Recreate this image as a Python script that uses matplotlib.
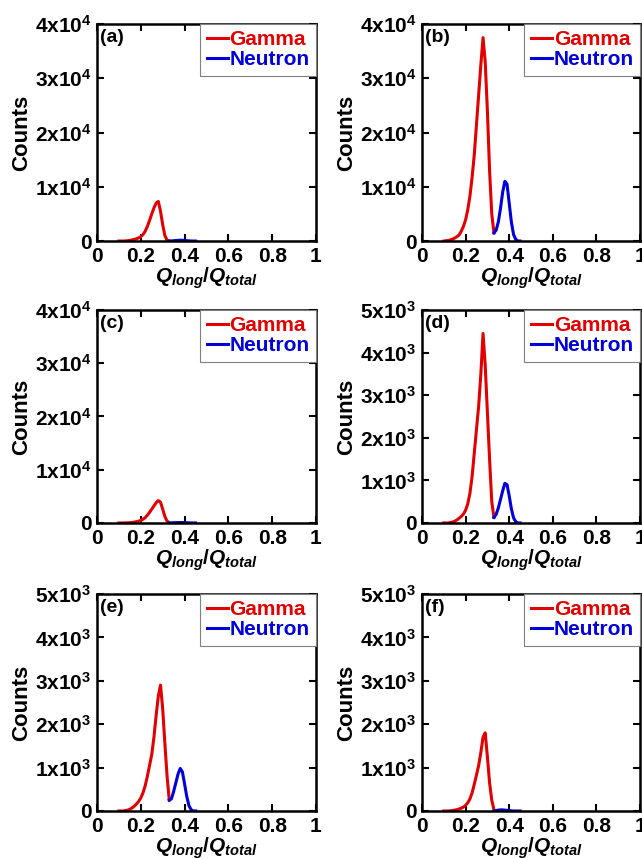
import matplotlib
matplotlib.use("Agg")
import matplotlib.pyplot as plt
import numpy as np

plt.rcParams['font.family'] = ['Liberation Sans', 'DejaVu Sans']
plt.rcParams['font.weight'] = 'bold'
plt.rcParams['mathtext.fontset'] = 'custom'
plt.rcParams['mathtext.rm'] = 'Liberation Sans:bold'
plt.rcParams['mathtext.it'] = 'Liberation Sans:bold:italic'
plt.rcParams['mathtext.bf'] = 'Liberation Sans:bold'

# bin centres of the PSD histograms
gamma_x = [0.10, 0.11, 0.12, 0.13, 0.14, 0.15, 0.16, 0.17, 0.18, 0.19, 0.20, 0.21,
           0.22, 0.23, 0.24, 0.25, 0.26, 0.27, 0.28, 0.29, 0.30, 0.31, 0.32, 0.33]
neutron_x = [0.33, 0.34, 0.35, 0.36, 0.37, 0.38, 0.39, 0.40, 0.41, 0.42, 0.43, 0.44, 0.45]

gamma_a = [0, 0, 0, 20, 60, 120, 200, 300, 420, 580, 800, 1200,
           1800, 2700, 3800, 5000, 6100, 7000, 7300, 5500, 3000, 1000, 150, 0]
gamma_b = [0, 50, 100, 200, 350, 550, 800, 1100, 1800, 2700, 3900, 5800,
           8300, 11800, 16000, 21500, 27000, 32500, 37500, 33000, 24000, 13000, 5000, 1500]
gamma_c = [0, 0, 0, 10, 30, 60, 100, 160, 240, 340, 480, 700,
           1000, 1450, 2000, 2600, 3200, 3800, 4200, 3900, 2600, 1200, 350, 50]
gamma_d = [0, 0, 0, 10, 20, 40, 70, 110, 150, 210, 300, 450,
           700, 1100, 1650, 2200, 2750, 3500, 4450, 3700, 2600, 1500, 500, 130]
gamma_e = [0, 0, 0, 10, 20, 40, 70, 110, 160, 220, 300, 420,
           580, 800, 1050, 1300, 1700, 2200, 2650, 2900, 2350, 1550, 800, 250]
gamma_f = [0, 0, 0, 5, 10, 20, 30, 45, 65, 90, 130, 190,
           280, 420, 620, 830, 1050, 1350, 1700, 1800, 1250, 650, 250, 30]

neutron_a = [0, 30, 60, 100, 130, 150, 140, 110, 70, 30, 10, 0, 0]
neutron_b = [1500, 2000, 3500, 6000, 9000, 11000, 10500, 7000, 3500, 1200, 300, 0, 0]
neutron_c = [0, 20, 40, 60, 75, 80, 75, 60, 40, 20, 5, 0, 0]
neutron_d = [130, 200, 350, 550, 750, 930, 900, 640, 330, 120, 30, 0, 0]
neutron_e = [250, 280, 450, 650, 850, 980, 900, 620, 330, 120, 30, 0, 0]
neutron_f = [0, 10, 20, 25, 25, 20, 15, 10, 5, 0, 0, 0, 0]

panel_labels = ['(a)', '(b)', '(c)', '(d)', '(e)', '(f)']
gammas = [gamma_a, gamma_b, gamma_c, gamma_d, gamma_e, gamma_f]
neutrons = [neutron_a, neutron_b, neutron_c, neutron_d, neutron_e, neutron_f]
ymax = [4e4, 4e4, 4e4, 5e3, 5e3, 5e3]

red = '#e00000'
blue = '#0000d8'

fig = plt.figure(figsize=(6.42, 8.59), dpi=100)

lefts = [0.1511, 0.6573]
widths = [0.3411, 0.3396]
rows = [(0.7194, 0.2526), (0.3912, 0.2479), (0.0559, 0.2526)]

for i in range(6):
    r, c = divmod(i, 2)
    ax = fig.add_axes([lefts[c], rows[r][0], widths[c], rows[r][1]])
    ax.plot(gamma_x, gammas[i], color=red, lw=2.2, label='Gamma')
    ax.plot(neutron_x, neutrons[i], color=blue, lw=2.2, label='Neutron')
    ax.set_xlim(0, 1)
    ax.set_ylim(0, ymax[i])
    ax.set_xticks([0, 0.2, 0.4, 0.6, 0.8, 1])
    ax.set_xticklabels(['0', '0.2', '0.4', '0.6', '0.8', '1'])
    if ymax[i] > 1e4:
        yt = [0, 1e4, 2e4, 3e4, 4e4]
        yl = ['0'] + ['%dx10$^4$' % k for k in range(1, 5)]
    else:
        yt = [0, 1e3, 2e3, 3e3, 4e3, 5e3]
        yl = ['0'] + ['%dx10$^3$' % k for k in range(1, 6)]
    ax.set_yticks(yt)
    ax.set_yticklabels(yl)
    ax.tick_params(direction='in', length=5, width=1.5, top=True, right=True,
                   labelsize=15)
    ax.tick_params(axis='x', pad=4)
    ax.tick_params(axis='y', pad=4)
    for s in ax.spines.values():
        s.set_linewidth(1.8)
    ax.set_ylabel('Counts', fontsize=16, fontweight='bold', labelpad=2)
    ax.set_xlabel(r'$Q_{long}/Q_{total}$', fontsize=15, labelpad=0)
    ax.text(0.015, 0.975, panel_labels[i], transform=ax.transAxes, fontsize=14,
            fontweight='bold', va='top', ha='left')
    leg = ax.legend(loc='upper right', fontsize=15, handlelength=1.0,
                    handletextpad=0.1, borderpad=0.3, labelspacing=0.05,
                    borderaxespad=0.0, fancybox=False, framealpha=1)
    leg.get_frame().set_edgecolor('#808080')
    leg.get_frame().set_linewidth(0.8)
    for t, col in zip(leg.get_texts(), [red, blue]):
        t.set_color(col)
        t.set_fontweight('bold')

fig.savefig('out.png', dpi=100)
